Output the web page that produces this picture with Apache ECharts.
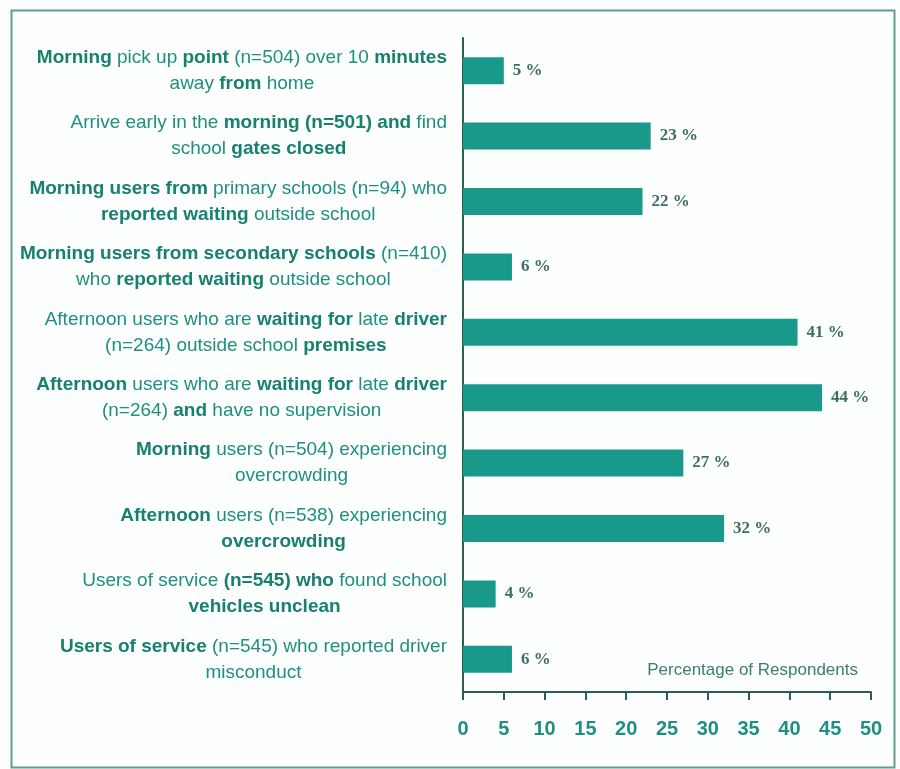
<!DOCTYPE html>
<html>
<head>
<meta charset="utf-8">
<script src="https://cdn.jsdelivr.net/npm/echarts@6/dist/echarts.min.js"></script>
<style>html,body{margin:0;padding:0;background:#fff}#c{width:900px;height:769px}</style>
</head>
<body>
<div id="c"></div>
<script>
const categories = [
  "Morning pick up point (n=504) over 10 minutes\naway from home",
  "Arrive early in the morning (n=501) and find\nschool gates closed",
  "Morning users from primary schools (n=94) who\nreported waiting outside school",
  "Morning users from secondary schools (n=410)\nwho reported waiting outside school",
  "Afternoon users who are waiting for late driver\n(n=264) outside school premises",
  "Afternoon users who are waiting for late driver\n(n=264) and have no supervision",
  "Morning users (n=504) experiencing\novercrowding",
  "Afternoon users (n=538) experiencing\novercrowding",
  "Users of service (n=545) who found school\nvehicles unclean",
  "Users of service (n=545) who reported driver\nmisconduct"
];
const boldWords = [
  ["Morning", "point", "minutes", "from"],
  ["morning", "(n=501)", "and", "gates", "closed"],
  ["Morning", "users", "from", "reported", "waiting"],
  ["Morning", "users", "from", "secondary", "schools", "reported", "waiting"],
  ["waiting", "for", "driver", "premises"],
  ["Afternoon", "waiting", "for", "driver", "and"],
  ["Morning"],
  ["Afternoon", "overcrowding"],
  ["(n=545)", "who", "vehicles", "unclean"],
  ["Users", "of", "service"]
];
const values = [5, 23, 22, 6, 41, 44, 27, 32, 4, 6];
const xTicks = { min: 0, max: 50, interval: 5 };
const xAxisTitle = "Percentage of Respondents";

const FONT = "'Liberation Sans',Arial,sans-serif";
const TEAL = '#1e8f80';

function fmtLabel(value) {
  const idx = categories.indexOf(value);
  const bold = boldWords[idx] || [];
  return value.split('\n').map(line => {
    const words = line.split(' ');
    return words.map((w, i) => {
      const t = w + (i < words.length - 1 ? ' ' : '');
      return '{' + (bold.indexOf(w) >= 0 ? 'b' : 'r') + '|' + t + '}';
    }).join('');
  }).join('\n');
}

const chart = echarts.init(document.getElementById('c'));
chart.setOption({
  backgroundColor: '#fdfefe',
  animation: false,
  title: {
    text: xAxisTitle,
    right: 37, top: 657,
    textStyle: { fontFamily: FONT, fontSize: 17, fontWeight: 'normal', color: '#3a7d72' }
  },
  graphic: [{
    type: 'rect', left: 9, top: 8, silent: true,
    shape: { width: 883, height: 757 },
    style: { fill: 'none', stroke: '#5f9d94', lineWidth: 2 }
  }],
  grid: { left: 463, right: 29, top: 38, bottom: 77, containLabel: false, outerBoundsMode: 'none' },
  xAxis: {
    type: 'value', min: xTicks.min, max: xTicks.max, interval: xTicks.interval,
    axisLine: { show: true, lineStyle: { color: '#2e5d55', width: 2 } },
    axisTick: { show: true, length: 8, lineStyle: { color: '#2e5d55', width: 2 } },
    splitLine: { show: false },
    axisLabel: { margin: 27, fontFamily: FONT, fontSize: 20, fontWeight: 'bold', color: TEAL }
  },
  yAxis: {
    type: 'category', data: categories, inverse: true,
    axisLine: { show: true, lineStyle: { color: '#2e5d55', width: 2 } },
    axisTick: { show: false },
    axisLabel: {
      margin: 16, align: 'right',
      formatter: fmtLabel,
      rich: {
        r: { fontFamily: FONT, fontSize: 19, color: TEAL, align: 'center', lineHeight: 26 },
        b: { fontFamily: FONT, fontSize: 19, fontWeight: 'bold', color: '#17806f', align: 'center', lineHeight: 26 }
      }
    }
  },
  series: [{
    type: 'bar', data: values, barWidth: 27,
    itemStyle: { color: '#18998a' },
    label: {
      show: true, position: 'right', distance: 9, formatter: '{c} %',
      fontFamily: "'Liberation Serif','DejaVu Serif',serif", fontSize: 17, fontWeight: 'bold', color: '#3d6d65'
    }
  }]
});
</script>
</body>
</html>
